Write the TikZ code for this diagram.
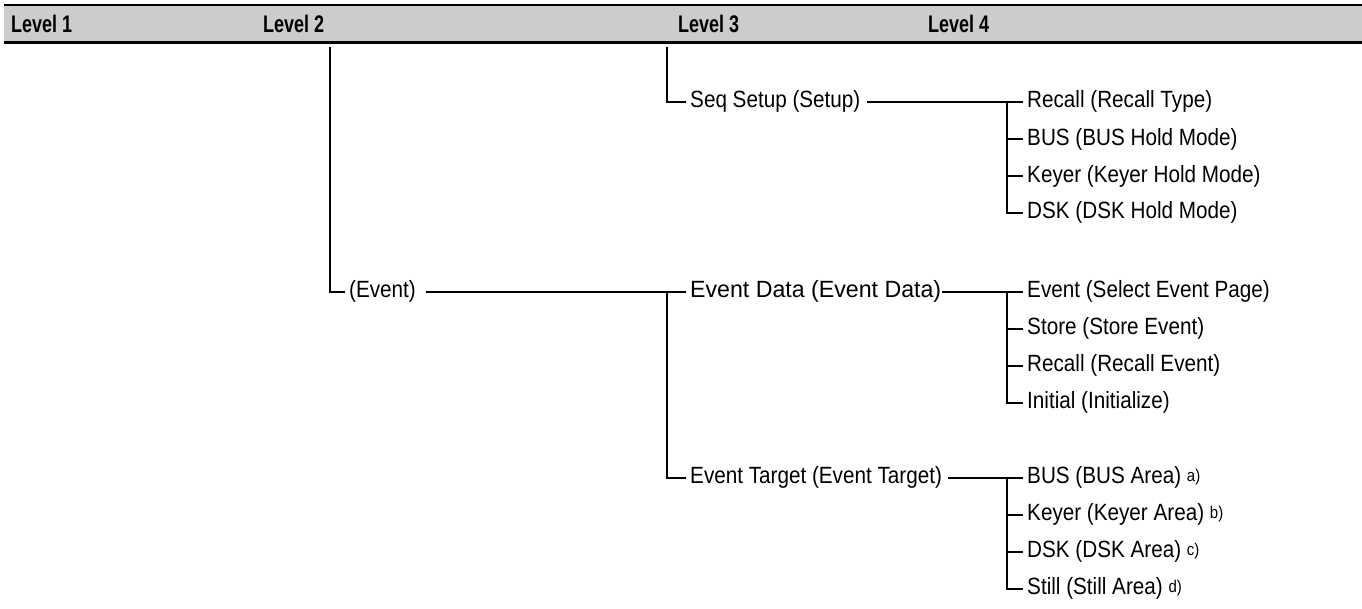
\documentclass[tikz,border=0pt]{standalone}
\usepackage{fontspec}
\setmainfont{Liberation Sans}[FakeStretch=0.88]
\newfontfamily\hdfont{Liberation Sans}[FakeStretch=0.75]
\newcommand\bodysize{\fontsize{23.5}{26}\selectfont}
\newcommand\fnmark[1]{\raisebox{2.5pt}{\fontsize{17}{17}\selectfont #1}}
\tikzset{
  lbl/.style={anchor=west, inner xsep=4pt, inner ysep=0pt, font=\bodysize},
  hd/.style={anchor=west, inner sep=0pt, font=\hdfont\bfseries\fontsize{24}{26}\selectfont},
  ln/.style={line width=2pt},
}
\begin{document}
\begin{tikzpicture}[x=1pt,y=-1pt]
\useasboundingbox (0,0) rectangle (1362,609);
% header
\fill[black!20] (4,5) rectangle (1362,42);
\draw[line width=2pt] (4,5) -- (1362,5);
\draw[line width=3pt] (4,42.5) -- (1362,42.5);
\node[hd] (h1) at (11,24) {Level 1};
\node[hd] (h2) at (263,24) {Level 2};
\node[hd] (h3) at (678,24) {Level 3};
\node[hd] (h4) at (928,24) {Level 4};
% column coordinates
\coordinate (c2) at (330,47);
\coordinate (c3) at (666.7,47);
\coordinate (c4) at (1006.7,47);
% level 2
\node[lbl] (ev) at (345,291.7) {(Event)};
% level 3
\node[lbl] (ss) at (686,101.7) {Seq Setup (Setup)};
\node[lbl] (ed) at (686,291.7) {\scalebox{1.12}[1]{Event Data (Event Data)}};
\node[lbl] (et) at (686,477.5) {Event Target (Event Target)};
% level 4
\node[lbl] (s1) at (1023,101.7) {Recall (Recall Type)};
\node[lbl] (s2) at (1023,139) {BUS (BUS Hold Mode)};
\node[lbl] (s3) at (1023,176) {Keyer (Keyer Hold Mode)};
\node[lbl] (s4) at (1023,212.7) {DSK (DSK Hold Mode)};
\node[lbl] (e1) at (1023,291.7) {Event (Select Event Page)};
\node[lbl] (e2) at (1023,328.7) {Store (Store Event)};
\node[lbl] (e3) at (1023,365.7) {Recall (Recall Event)};
\node[lbl] (e4) at (1023,402.5) {Initial (Initialize)};
\node[lbl] (t1) at (1023,477.5) {BUS (BUS Area) \fnmark{a)}};
\node[lbl] (t2) at (1023,514.5) {Keyer (Keyer Area) \fnmark{b)}};
\node[lbl] (t3) at (1023,551.5) {DSK (DSK Area) \fnmark{c)}};
\node[lbl] (t4) at (1023,588.5) {Still (Still Area) \fnmark{d)}};
% connectors
\draw[ln] (c2) |- (ev.west);
\draw[ln] (c3) |- (ss.west);
\draw[ln,shorten <=6pt] (ev.east) -- (ed.west);
\draw[ln] (c3 |- ed.west) |- (et.west);
% seq setup group
\draw[ln,shorten <=2pt] (ss.east) -- (s1.west);
\draw[ln] (c4 |- s1.west) |- (s4.west);
\draw[ln] (c4 |- s2.west) -- (s2.west);
\draw[ln] (c4 |- s3.west) -- (s3.west);
% event data group
\draw[ln,shorten <=-3pt] (ed.east) -- (e1.west);
\draw[ln] (c4 |- e1.west) |- (e4.west);
\draw[ln] (c4 |- e2.west) -- (e2.west);
\draw[ln] (c4 |- e3.west) -- (e3.west);
% event target group
\draw[ln,shorten <=2pt] (et.east) -- (t1.west);
\draw[ln] (c4 |- t1.west) |- (t4.west);
\draw[ln] (c4 |- t2.west) -- (t2.west);
\draw[ln] (c4 |- t3.west) -- (t3.west);
\end{tikzpicture}
\end{document}
